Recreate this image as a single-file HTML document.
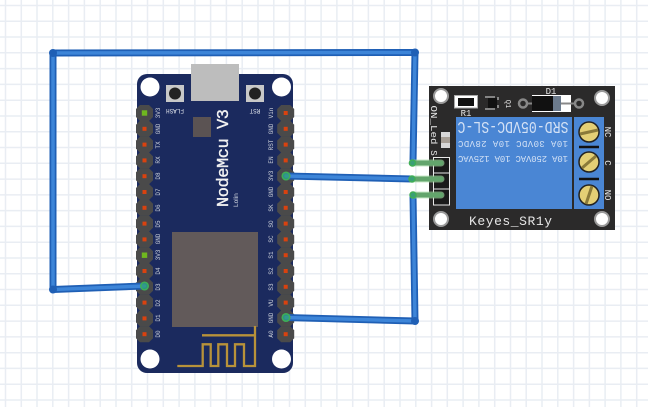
<!DOCTYPE html>
<html><head><meta charset="utf-8"><style>
html,body{margin:0;padding:0;background:#fff;width:648px;height:407px;overflow:hidden}
svg{display:block}
text{font-family:"Liberation Mono",monospace}
</style></head><body>
<svg width="648" height="407" viewBox="0 0 648 407" xmlns="http://www.w3.org/2000/svg">
<defs>
<path id="o" d="M-4.500 -8H4.500L8.500 -4V4L4.500 8H-4.500L-8.500 4V-4Z" fill="#4a4a4a"/>
<g id="p"><use href="#o"/><rect x="-2" y="-2" width="4" height="4" fill="#d9420f"/></g>
<g id="g"><use href="#o"/><rect x="-2.700" y="-2.700" width="5.400" height="5.400" fill="#6fb81f"/></g>
</defs>
<rect width="648" height="407" fill="#fff"/>
<g stroke="#e9edf3" stroke-width="1.500">
<path d="M5.500 0V407M21.300 0V407M37 0V407M52.800 0V407M68.600 0V407M84.400 0V407M100.200 0V407M116 0V407M131.700 0V407M147.500 0V407M163.300 0V407M179.100 0V407M194.900 0V407M210.600 0V407M226.400 0V407M242.200 0V407M258 0V407M273.800 0V407M289.500 0V407M305.300 0V407M321.100 0V407M336.900 0V407M352.700 0V407M368.400 0V407M384.200 0V407M400 0V407M415.800 0V407M431.600 0V407M447.300 0V407M463.100 0V407M478.900 0V407M494.700 0V407M510.500 0V407M526.200 0V407M542 0V407M557.800 0V407M573.600 0V407M589.400 0V407M605.100 0V407M620.900 0V407M636.700 0V407"/>
<path d="M0 5.500H648M0 21.300H648M0 37H648M0 52.800H648M0 68.600H648M0 84.400H648M0 100.200H648M0 116H648M0 131.700H648M0 147.500H648M0 163.300H648M0 179.100H648M0 194.900H648M0 210.600H648M0 226.400H648M0 242.200H648M0 258H648M0 273.800H648M0 289.500H648M0 305.300H648M0 321.100H648M0 336.900H648M0 352.700H648M0 368.400H648M0 384.200H648M0 400H648"/>
</g>

<!-- NodeMCU board -->
<rect x="137" y="74" width="156" height="299" rx="10" fill="#1b2a5e"/>
<rect x="191" y="64" width="48" height="37" fill="#bdbdbd"/>
<rect x="166" y="85" width="18" height="17" fill="#c8c8c8"/>
<circle cx="175" cy="93.500" r="6" fill="#222"/>
<rect x="246" y="85" width="18" height="17" fill="#c8c8c8"/>
<circle cx="255" cy="93.500" r="6" fill="#222"/>
<g fill="#fff">
<circle cx="150" cy="87" r="9.500"/><circle cx="281.500" cy="87" r="9.500"/>
<circle cx="150" cy="359" r="9.500"/><circle cx="281.500" cy="359" r="9.500"/>
</g>
<rect x="193" y="117" width="18" height="20" fill="#5b5353"/>
<rect x="172" y="232" width="86" height="95" fill="#625a5a"/>
<g fill="none" stroke="#b8923a" stroke-width="2.300">
<path d="M177.300 366H202.700V344.300H210.700V366H218.300V344.300H227V366H235V344.300H244V366H255V326"/>
<path d="M202 335.300H255"/>
</g>
<text transform="translate(228,207) rotate(-90)" font-size="17" fill="#f2f2f2" stroke="#f2f2f2" stroke-width=".35" textLength="98" lengthAdjust="spacing">NodeMcu V3</text>
<text transform="translate(238,207) rotate(-90)" font-size="6.500" fill="#cfd4de" style="font-family:'Liberation Sans',sans-serif">Lolin</text>
<text transform="translate(175,109) rotate(180)" text-anchor="middle" font-size="6" fill="#dfe3ea" textLength="18">FLASH</text>
<text transform="translate(255,109) rotate(180)" text-anchor="middle" font-size="6" fill="#dfe3ea">RST</text>

<!-- pin headers -->
<g transform="translate(144.500,0)">
<use href="#g" y="113"/><use href="#p" y="128.800"/><use href="#p" y="144.600"/><use href="#p" y="160.400"/><use href="#p" y="176.200"/><use href="#p" y="192"/><use href="#p" y="207.800"/><use href="#p" y="223.600"/><use href="#p" y="239.400"/><use href="#g" y="255.200"/><use href="#p" y="271"/><use href="#p" y="286.800"/><use href="#p" y="302.600"/><use href="#p" y="318.400"/><use href="#p" y="334.200"/>
</g>
<g transform="translate(285.700,0)">
<use href="#p" y="113"/><use href="#p" y="128.800"/><use href="#p" y="144.600"/><use href="#p" y="160.400"/><use href="#p" y="176.200"/><use href="#p" y="192"/><use href="#p" y="207.800"/><use href="#p" y="223.600"/><use href="#p" y="239.400"/><use href="#p" y="255.200"/><use href="#p" y="271"/><use href="#p" y="286.800"/><use href="#p" y="302.600"/><use href="#p" y="318.400"/><use href="#p" y="334.200"/>
</g>
<g fill="#cdd1da" font-size="6" text-anchor="middle">
<text transform="translate(160,113) rotate(-90)">3V3</text>
<text transform="translate(160,129) rotate(-90)">GND</text>
<text transform="translate(160,145) rotate(-90)">TX</text>
<text transform="translate(160,160) rotate(-90)">RX</text>
<text transform="translate(160,176) rotate(-90)">D8</text>
<text transform="translate(160,192) rotate(-90)">D7</text>
<text transform="translate(160,208) rotate(-90)">D6</text>
<text transform="translate(160,224) rotate(-90)">D5</text>
<text transform="translate(160,239) rotate(-90)">GND</text>
<text transform="translate(160,255) rotate(-90)">3V3</text>
<text transform="translate(160,271) rotate(-90)">D4</text>
<text transform="translate(160,287) rotate(-90)">D3</text>
<text transform="translate(160,303) rotate(-90)">D2</text>
<text transform="translate(160,318) rotate(-90)">D1</text>
<text transform="translate(160,334) rotate(-90)">D0</text>
<text transform="translate(273,113) rotate(-90)">Vin</text>
<text transform="translate(273,129) rotate(-90)">GND</text>
<text transform="translate(273,145) rotate(-90)">RST</text>
<text transform="translate(273,160) rotate(-90)">EN</text>
<text transform="translate(273,176) rotate(-90)">3V3</text>
<text transform="translate(273,192) rotate(-90)">GND</text>
<text transform="translate(273,208) rotate(-90)">SK</text>
<text transform="translate(273,224) rotate(-90)">SO</text>
<text transform="translate(273,239) rotate(-90)">SC</text>
<text transform="translate(273,255) rotate(-90)">S1</text>
<text transform="translate(273,271) rotate(-90)">S2</text>
<text transform="translate(273,287) rotate(-90)">S3</text>
<text transform="translate(273,303) rotate(-90)">VU</text>
<text transform="translate(273,318) rotate(-90)">GND</text>
<text transform="translate(273,334) rotate(-90)">A0</text>
</g>

<!-- Relay -->
<rect x="429" y="86" width="186" height="144" fill="#2b2a2a"/>
<rect x="456" y="117" width="116" height="92" fill="#4a86d4"/>
<rect x="574" y="117" width="30" height="92" fill="#4a86d4"/>
<g fill="#fff" stroke="#9a9a9a" stroke-width="2">
<circle cx="441" cy="96" r="7"/><circle cx="602" cy="98" r="7"/>
<circle cx="441" cy="219" r="7"/><circle cx="602" cy="219" r="7"/>
</g>
<g fill="#e3cf75" stroke="#222" stroke-width="1.500">
<circle cx="589" cy="132" r="10"/><circle cx="589" cy="162" r="10"/><circle cx="589" cy="195" r="10"/>
</g>
<g stroke="#8a7a3a" stroke-width="3">
<path d="M580 134L598 130M582 168L596 156M586 204L592 186"/>
</g>
<path d="M579 147H599M579 179H599" stroke="#111" stroke-width="2.500"/>
<g fill="#d3e1f5" text-anchor="middle">
<text transform="translate(513,122) rotate(180)" font-size="16.500" textLength="111" lengthAdjust="spacingAndGlyphs">SRD-05VDC-SL-C</text>
<text transform="translate(513,141) rotate(180)" font-size="9" textLength="110" lengthAdjust="spacing">10A  30VDC  10A  28VDC</text>
<text transform="translate(513,156) rotate(180)" font-size="9" textLength="110" lengthAdjust="spacing">10A 250VAC  10A 125VAC</text>
</g>
<g fill="#e8e8e8" text-anchor="middle">
<text transform="translate(605,132) rotate(90)" font-size="9">NC</text>
<text transform="translate(605,163) rotate(90)" font-size="9">C</text>
<text transform="translate(605,195) rotate(90)" font-size="9">NO</text>
<text x="510.500" y="225" font-size="13" textLength="83" lengthAdjust="spacing" fill="#e6e6e6">Keyes_SR1y</text>
<text x="551" y="94" font-size="9">D1</text>
<text x="466" y="116" font-size="9">R1</text>
<text transform="translate(506,104) rotate(90)" font-size="7">Q1</text>
<text transform="translate(431,125) rotate(90)" font-size="9" textLength="39" lengthAdjust="spacingAndGlyphs">ON_Led</text>
<text transform="translate(431,153) rotate(90)" font-size="9">S</text>
</g>
<rect x="454.500" y="95.500" width="23" height="12.500" fill="#fff" stroke="#aaa"/>
<rect x="458" y="98" width="16" height="8" fill="#111"/>
<rect x="488" y="98" width="9" height="10" fill="#111"/>
<path d="M485 97h10M485 109h10M498 97v3M498 105v3" stroke="#ddd" stroke-width="1" fill="none"/>
<circle cx="523" cy="103.500" r="4" fill="none" stroke="#888" stroke-width="2.500"/>
<circle cx="579" cy="103.500" r="4" fill="none" stroke="#888" stroke-width="2.500"/>
<path d="M527 103.500H575" stroke="#888" stroke-width="2"/>
<rect x="532" y="95" width="39" height="17" fill="#fff"/>
<rect x="532" y="96" width="21" height="15" fill="#111"/>
<rect x="553" y="96" width="8" height="15" fill="#6b7a8c"/>
<path d="M561 103.500H575" stroke="#888" stroke-width="2"/>
<rect x="441" y="132" width="9" height="16" fill="#d8d8d8"/>
<rect x="441" y="137" width="9" height="6" fill="#a79f96"/>
<g fill="#1a1a1a" stroke="#e8e8e8" stroke-width="1">
<rect x="433.500" y="157.500" width="16" height="15.500"/>
<rect x="433.500" y="173" width="16" height="16"/>
<rect x="433.500" y="189" width="16" height="16"/>
</g>

<!-- wires -->
<g fill="none" stroke-linecap="round" stroke-linejoin="round">
<g stroke="#1f5fb5" stroke-width="7">
<path d="M413 162L415 52.500L53 53L53 289.500L144.500 286"/>
<path d="M286 176L412 179"/>
<path d="M286 317.500L415 321L413 195"/>
</g>
<g stroke="#3d85d8" stroke-width="3.500">
<path d="M413 162L415 52.500L53 53L53 289.500L144.500 286"/>
<path d="M286 176L412 179"/>
<path d="M286 317.500L415 321L413 195"/>
</g>
</g>
<g fill="#1f5fb5">
<circle cx="53" cy="53" r="4"/><circle cx="415" cy="52.500" r="4"/>
<circle cx="53" cy="289.500" r="4"/><circle cx="415" cy="321" r="4"/>
</g>
<!-- green pin connections -->
<g stroke-linecap="round">
<path d="M412 163H441M412 179H441M413 195H441" stroke="#a4dca4" stroke-width="7" stroke-opacity=".6"/>
<path d="M412 163H441M412 179H441M413 195H441" stroke="#63a56c" stroke-width="5"/>
</g>
<g fill="#2f9e7a" fill-opacity=".8" stroke="#3fae55" stroke-width="1.500">
<circle cx="286" cy="176" r="3.800"/>
<circle cx="286" cy="317.500" r="3.800"/>
<circle cx="144.500" cy="286" r="3.800"/>
<circle cx="412.500" cy="163" r="3"/>
<circle cx="412" cy="179" r="3"/>
<circle cx="413" cy="195" r="3"/>
</g>
</svg>
</body></html>
